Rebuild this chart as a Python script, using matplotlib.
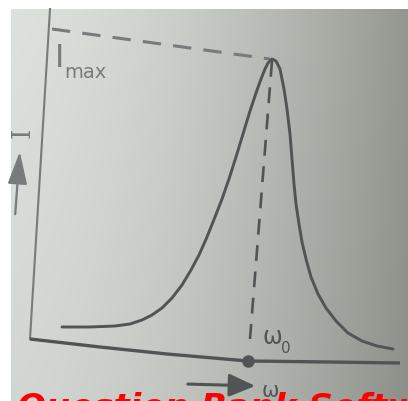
import numpy as np
import matplotlib
matplotlib.use("Agg")
import matplotlib.pyplot as plt

# resonance curve (pixel coords, y down)
curve_x = [62, 90, 115, 130, 142, 152, 162, 172, 182, 191, 199, 207, 215, 222,
           229, 236, 243, 250, 256, 261, 265, 268, 272, 276, 280, 284, 287,
           290, 292, 294, 296, 299, 302, 306, 311, 318, 326, 336, 348, 362,
           377, 393]
curve_y = [328, 328, 327, 325, 321, 316, 309, 299, 286, 271, 256, 238, 218, 200,
           180, 158, 135, 112, 94, 80, 70, 64, 60, 62, 70, 90, 110,
           135, 160, 185, 205, 225, 243, 260, 278, 295, 309, 322, 334, 342,
           347, 350]

# axes of the sketch (slightly tilted photo)
yaxis_x = [50, 30]
yaxis_y = [10, 340]
xaxis_x = [30, 100, 167, 248, 330, 400]
xaxis_y = [340, 348, 355, 362, 363, 364]

# guide lines to the peak
imax_x = [52, 270]
imax_y = [30, 60]
w0_x = [272, 250]
w0_y = [62, 340]
w0_dot = (248, 362)

W, H = 408, 402
fig = plt.figure(figsize=(W / 100, H / 100), dpi=100)
ax = fig.add_axes([0, 0, 1, 1])
ax.set_xlim(0, W)
ax.set_ylim(H, 0)
ax.axis("off")

# grey paper background, darker towards the right
xx = np.linspace(0, 1, W)
yy = np.linspace(0, 1, H)
shade = 1 - 0.33 * xx ** 1.6
bg = np.zeros((H, W, 3))
bg[:, :, 0] = 222 / 255 * shade[None, :] * (1 - 0.05 * yy[:, None])
bg[:, :, 1] = 226 / 255 * shade[None, :] * (1 - 0.05 * yy[:, None])
bg[:, :, 2] = 222 / 255 * (shade[None, :] - 0.02 * xx[None, :]) * (1 - 0.05 * yy[:, None])
bg[:10, :, :] = 1.0
bg[:, :11, :] = 1.0
ax.imshow(bg, extent=(0, W, H, 0), aspect="auto", zorder=0)

ink = "#4f5455"
pale = "#767c7c"

ax.plot(yaxis_x, yaxis_y, color=pale, lw=1.5, zorder=2)
ax.plot(xaxis_x, xaxis_y, color=ink, lw=2.4, zorder=2, solid_capstyle="butt")
ax.annotate("", xy=(412, 364), xytext=(392, 364),
            arrowprops=dict(arrowstyle="-|>,head_length=1.2,head_width=0.5",
                            color=ink, lw=2.4), zorder=3)
ax.plot(*w0_dot, "o", color=ink, ms=8, zorder=3)

ax.plot(imax_x, imax_y, color=pale, lw=2.2, dashes=(6, 4), zorder=2)
ax.plot(w0_x, w0_y, color=ink, lw=1.9, dashes=(6, 4), zorder=2)

ax.plot(curve_x, curve_y, color=ink, lw=2.1, zorder=3,
        solid_joinstyle="round", solid_capstyle="round")

# labels
ax.text(55, 67, "I", fontsize=24, color=pale, family="Liberation Sans")
ax.text(64, 78, "max", fontsize=14, color=pale, family="DejaVu Sans")
ax.text(262, 344, "ω", fontsize=17, color=ink, family="DejaVu Sans")
ax.text(281, 353, "0", fontsize=11, color=ink, family="DejaVu Sans")

ax.text(22, 133, "I", fontsize=19, color=pale, family="DejaVu Serif",
        rotation=90, ha="center", va="center")
ax.annotate("", xy=(20, 150), xytext=(15, 218),
            arrowprops=dict(arrowstyle="-|>,head_length=2.0,head_width=0.6",
                            color=pale, lw=1.6))

ax.annotate("", xy=(258, 387), xytext=(185, 385),
            arrowprops=dict(arrowstyle="-|>,head_length=1.6,head_width=0.7",
                            color=ink, lw=2.2))
ax.text(262, 397, "ω", fontsize=15, color=ink, family="DejaVu Sans")

# watermark across the bottom
ax.text(17, 418, "Question Bank Software", fontsize=24.5, color="#ff0000",
        family="DejaVu Sans", fontweight="bold", fontstyle="oblique",
        zorder=5)

fig.savefig("out.png", dpi=100)
